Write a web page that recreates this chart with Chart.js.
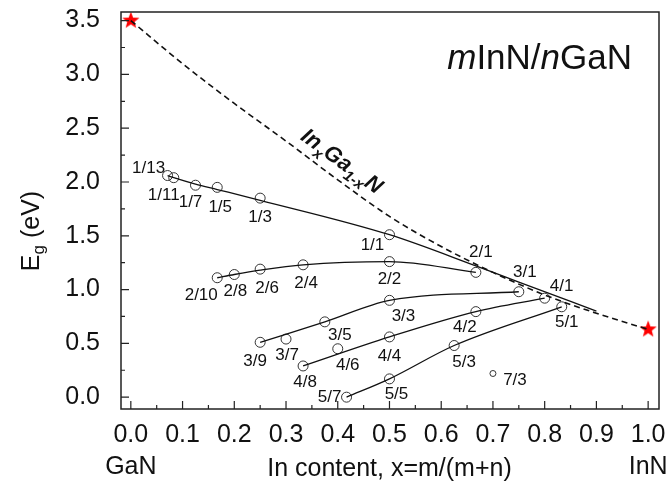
<!DOCTYPE html>
<html><head><meta charset="utf-8">
<script src="https://cdn.jsdelivr.net/npm/chart.js@4/dist/chart.umd.min.js"></script>
<style>html,body{margin:0;padding:0;background:#fff;}canvas{display:block;}</style>
</head><body>
<canvas id="c" width="669" height="486"></canvas>
<script>
// ---------------- DATA ----------------
const xTickValues = [0.0,0.1,0.2,0.3,0.4,0.5,0.6,0.7,0.8,0.9,1.0];
const xMinorTicks = [0.05,0.15,0.25,0.35,0.45,0.55,0.65,0.75,0.85,0.95];
const yTickValues = [0.0,0.5,1.0,1.5,2.0,2.5,3.0,3.5];
const yMinorTicks = [0.25,0.75,1.25,1.75,2.25,2.75,3.25];

// m=1 series
const s1Labels = ['1/13','1/11','1/7','1/5','1/3','1/1'];
const s1X = [0.071,0.083,0.125,0.167,0.25,0.5];
const s1Y = [2.06,2.04,1.97,1.95,1.85,1.51];
const fit1X = [0.071,0.083,0.125,0.167,0.25,0.5,0.667,0.75,0.9];
const fit1Y = [2.06,2.04,1.98,1.93,1.83,1.51,1.22,1.07,0.80];
// m=2 series
const s2Labels = ['2/10','2/8','2/6','2/4','2/2','2/1'];
const s2X = [0.167,0.2,0.25,0.333,0.5,0.667];
const s2Y = [1.11,1.14,1.19,1.23,1.26,1.16];
const fit2X = [0.167,0.2,0.25,0.333,0.5,0.667];
const fit2Y = [1.11,1.14,1.18,1.23,1.26,1.16];
// m=3 series
const s3Labels = ['3/9','3/7','3/5','3/3','3/1'];
const s3X = [0.25,0.3,0.375,0.5,0.75];
const s3Y = [0.51,0.54,0.70,0.90,0.98];
const fit3X = [0.25,0.375,0.5,0.75];
const fit3Y = [0.51,0.70,0.90,0.98];
// m=4 series
const s4Labels = ['4/8','4/6','4/4','4/2','4/1'];
const s4X = [0.333,0.4,0.5,0.667,0.8];
const s4Y = [0.29,0.45,0.56,0.795,0.92];
const fit4X = [0.333,0.5,0.667,0.8];
const fit4Y = [0.29,0.56,0.795,0.92];
// m=5 series
const s5Labels = ['5/7','5/5','5/3','5/1'];
const s5X = [0.417,0.5,0.625,0.833];
const s5Y = [0.0,0.17,0.48,0.84];
const fit5X = [0.417,0.5,0.625,0.833];
const fit5Y = [0.0,0.17,0.48,0.84];
// m=7 point
const s7Labels = ['7/3'];
const s7X = [0.70];
const s7Y = [0.22];
// InxGa1-xN alloy curve
const alloyX = [0,0.1,0.2,0.3,0.4,0.5,0.6,0.7,0.8,0.9,1.0];
const alloyY = [3.5,3.10,2.73,2.38,2.02,1.68,1.40,1.16,0.95,0.78,0.63];
// GaN and InN end points
const endX = [0,1];
const endY = [3.5,0.63];

// ---------------- LAYOUT / STYLE ----------------
const FONT = "'Liberation Sans', Arial, sans-serif";
const labelOffsets = {
  '1/13':[-19,-7],'1/11':[-10,18],'1/7':[-5,17],'1/5':[3,20],'1/3':[0,19],'1/1':[-17,11],
  '2/10':[-16,18],'2/8':[1,17],'2/6':[7,19],'2/4':[3,18],'2/2':[0,18],'2/1':[5,-20],
  '3/9':[-5,19],'3/7':[1,16],'3/5':[15,13],'3/3':[14,16],'3/1':[6,-19],
  '4/8':[2,16],'4/6':[10,17],'4/4':[0,19],'4/2':[-11,16],'4/1':[17,-12],
  '5/7':[-17,0],'5/5':[7,15],'5/3':[10,17],'5/1':[5,16],
  '7/3':[22,7]
};

function pts(xs, ys){ return xs.map((x,i)=>({x:x, y:ys[i]})); }

function starImage(){
  const c = document.createElement('canvas');
  c.width = 20; c.height = 20;
  const g = c.getContext('2d');
  g.beginPath();
  for(let i=0;i<10;i++){
    const r = (i%2===0) ? 9 : 3.8;
    const a = -Math.PI/2 + i*Math.PI/5;
    const px = 10 + r*Math.cos(a), py = 10 + r*Math.sin(a);
    if(i===0) g.moveTo(px,py); else g.lineTo(px,py);
  }
  g.closePath();
  g.fillStyle = '#ff0000';
  g.fill();
  return c;
}
const STAR = starImage();

function fitLine(xs, ys){
  return {data: pts(xs,ys), showLine:true, borderColor:'#111', borderWidth:1.3,
          pointRadius:0, tension:0.4, cubicInterpolationMode:'monotone', fill:false};
}
function markers(xs, ys, labels, r){
  return {data: pts(xs,ys), showLine:false, pointStyle:'circle', pointRadius:r||5,
          pointBorderColor:'#333', pointBackgroundColor:'rgba(255,255,255,0)', pointBorderWidth:1,
          pointLabels: labels};
}

const datasets = [
  {data: pts(alloyX, alloyY), showLine:true, borderColor:'#111', borderWidth:1.6, borderDash:[6,4],
   pointRadius:0, tension:0.4, cubicInterpolationMode:'monotone', fill:false},
  fitLine(fit1X, fit1Y), fitLine(fit2X, fit2Y), fitLine(fit3X, fit3Y), fitLine(fit4X, fit4Y), fitLine(fit5X, fit5Y),
  markers(s1X, s1Y, s1Labels), markers(s2X, s2Y, s2Labels), markers(s3X, s3Y, s3Labels),
  markers(s4X, s4Y, s4Labels), markers(s5X, s5Y, s5Labels), markers(s7X, s7Y, s7Labels, 3),
  {data: pts(endX, endY), showLine:false, pointStyle: STAR, pointRadius:9}
];

const framePlugin = {
  id:'frame',
  afterDraw(chart){
    const {ctx, chartArea:a, scales:{x, y}} = chart;
    ctx.save();
    ctx.strokeStyle = '#222';
    ctx.lineWidth = 1.5;
    ctx.strokeRect(a.left, a.top, a.right-a.left, a.bottom-a.top);
    ctx.lineWidth = 1.2;
    ctx.beginPath();
    xTickValues.forEach(v=>{ const p = x.getPixelForValue(v); ctx.moveTo(p, a.bottom); ctx.lineTo(p, a.bottom-8); });
    xMinorTicks.forEach(v=>{ const p = x.getPixelForValue(v); ctx.moveTo(p, a.bottom); ctx.lineTo(p, a.bottom-4); });
    yTickValues.forEach(v=>{ const p = y.getPixelForValue(v); ctx.moveTo(a.left, p); ctx.lineTo(a.left+8, p); });
    yMinorTicks.forEach(v=>{ const p = y.getPixelForValue(v); ctx.moveTo(a.left, p); ctx.lineTo(a.left+4, p); });
    ctx.stroke();
    ctx.restore();
  }
};

const textPlugin = {
  id:'texts',
  afterDraw(chart){
    const {ctx, chartArea:a, scales:{x, y}} = chart;
    ctx.save();
    ctx.fillStyle = '#111';
    // point labels
    ctx.font = '17px ' + FONT;
    ctx.textAlign = 'center';
    ctx.textBaseline = 'middle';
    chart.data.datasets.forEach((ds, di)=>{
      if(!ds.pointLabels) return;
      const meta = chart.getDatasetMeta(di);
      ds.pointLabels.forEach((lab, i)=>{
        const el = meta.data[i];
        const off = labelOffsets[lab] || [0,0];
        ctx.fillText(lab, el.x + off[0], el.y + off[1]);
      });
    });
    // x axis extras
    ctx.font = '25px ' + FONT;
    ctx.textBaseline = 'middle';
    ctx.fillText('GaN', x.getPixelForValue(0), 467);
    ctx.fillText('InN', x.getPixelForValue(1), 467);
    ctx.fillText('In content, x=m/(m+n)', (x.getPixelForValue(0)+x.getPixelForValue(1))/2, 469);
    // y axis title E_g (eV)
    ctx.save();
    ctx.translate(30, 231);
    ctx.rotate(-Math.PI/2);
    ctx.textAlign = 'left';
    ctx.textBaseline = 'alphabetic';
    const big = '25px ' + FONT, small = '17px ' + FONT;
    ctx.font = big; const wE = ctx.measureText('E').width;
    ctx.font = small; const wg = ctx.measureText('g').width;
    ctx.font = big; const wR = ctx.measureText(' (eV)').width;
    let sx = -(wE+wg+wR)/2;
    const by = 9;
    ctx.font = big; ctx.fillText('E', sx, by); sx += wE;
    ctx.font = small; ctx.fillText('g', sx, by+5); sx += wg;
    ctx.font = big; ctx.fillText(' (eV)', sx, by);
    ctx.restore();
    // mInN/nGaN
    ctx.save();
    ctx.textAlign = 'left';
    ctx.textBaseline = 'alphabetic';
    const parts = [['m','italic '],['InN/',''],['n','italic '],['GaN','']];
    const fs = '35px ' + FONT;
    let tw = 0;
    parts.forEach(p=>{ ctx.font = p[1]+fs; tw += ctx.measureText(p[0]).width; });
    let tx = 632 - tw;
    parts.forEach(p=>{ ctx.font = p[1]+fs; ctx.fillText(p[0], tx, 69); tx += ctx.measureText(p[0]).width; });
    ctx.restore();
    // InxGa1-xN label along alloy curve
    ctx.save();
    ctx.translate(x.getPixelForValue(0.326), y.getPixelForValue(2.40));
    ctx.rotate(36*Math.PI/180);
    ctx.textAlign = 'left';
    ctx.textBaseline = 'alphabetic';
    const bb = 'italic bold 22px ' + FONT, bs = 'italic bold 15px ' + FONT;
    const seq = [['In',bb,0],['x',bs,6],['Ga',bb,0],['1-x',bs,6],['N',bb,0]];
    let ux = 0;
    seq.forEach(s=>{ ctx.font = s[1]; ctx.fillText(s[0], ux, s[2]); ux += ctx.measureText(s[0]).width; });
    ctx.restore();
    ctx.restore();
  }
};

function fixX(s){ s.height = 77; s.paddingLeft = 0; s.paddingRight = 0; s.paddingTop = 0; s.paddingBottom = 0; }
function fixY(s){ s.width = 121; s.paddingLeft = 0; s.paddingRight = 0; s.paddingTop = 0; s.paddingBottom = 0; }

new Chart(document.getElementById('c'), {
  type:'scatter',
  data:{datasets: datasets},
  options:{
    responsive:false, animation:false, devicePixelRatio:1,
    layout:{padding:{top:12, right:8, left:0, bottom:0}},
    plugins:{legend:{display:false}, tooltip:{enabled:false}},
    scales:{
      x:{type:'linear', min:-0.019, max:1.021,
         afterBuildTicks: s => { s.ticks = xTickValues.map(v=>({value:v})); },
         afterFit: fixX,
         grid:{display:false}, border:{display:false},
         ticks:{font:{size:25, family:FONT}, color:'#111', padding:3, maxRotation:0, autoSkip:false,
                callback: v => Number(v).toFixed(1)}},
      y:{type:'linear', min:-0.11, max:3.58,
         afterBuildTicks: s => { s.ticks = yTickValues.map(v=>({value:v})); },
         afterFit: fixY,
         grid:{display:false}, border:{display:false},
         ticks:{font:{size:25, family:FONT}, color:'#111', padding:13, autoSkip:false,
                callback: v => Number(v).toFixed(1)}}
    }
  },
  plugins:[framePlugin, textPlugin]
});
</script>
</body></html>
